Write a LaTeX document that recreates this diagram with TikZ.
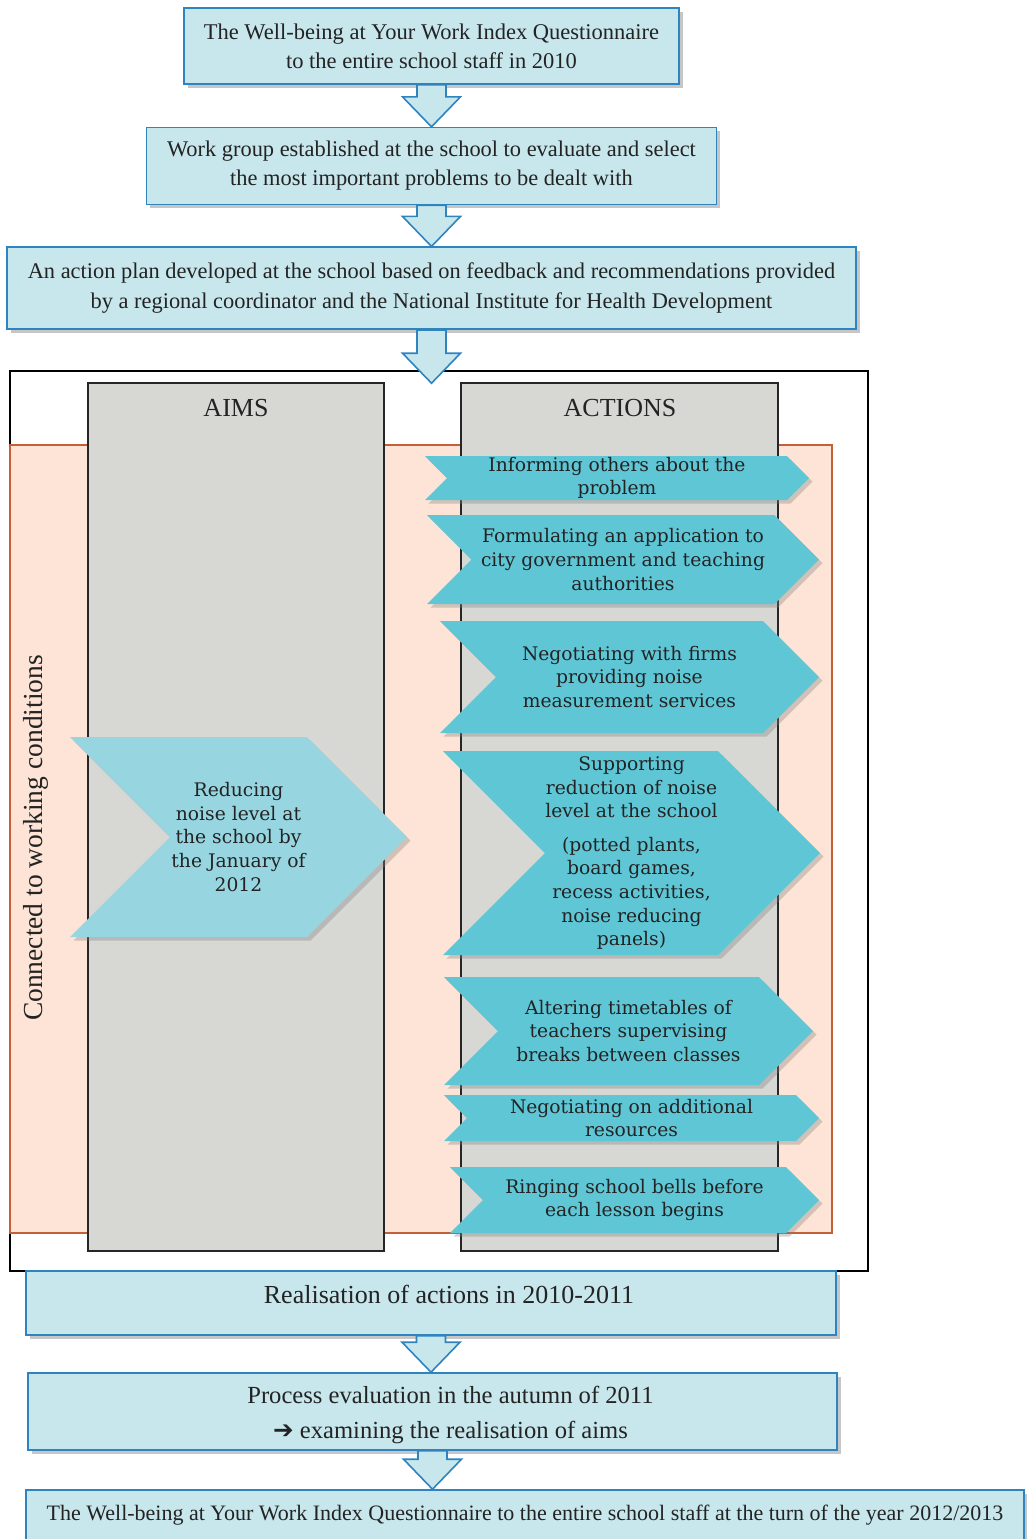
\documentclass[tikz,border=0pt]{standalone}
\usepackage{fontspec}
\setmainfont{Liberation Serif}
\newfontfamily\chevfont{DejaVu Serif}
\newfontfamily\symfont{DejaVu Sans}
\usepackage{tikz}
\usetikzlibrary{positioning,calc,shadows}
\definecolor{boxfill} {RGB}{199,231,237}
\definecolor{boxline} {RGB}{47,132,192}
\definecolor{bandfill}{RGB}{253,228,214}
\definecolor{bandline}{RGB}{196,96,56}
\definecolor{colfill} {RGB}{215,215,211}
\definecolor{aimfill} {RGB}{151,214,224}
\definecolor{actfill} {RGB}{95,198,214}
\definecolor{txtgray} {RGB}{35,35,35}
\tikzset{
  flowbox/.style={draw=boxline, fill=boxfill, line width=0.8pt, align=center,
                  text=txtgray, inner sep=2pt,
                  drop shadow={shadow xshift=1.8pt, shadow yshift=-1.8pt,
                               opacity=0.45}},
  blockarr/.style={draw=boxline, fill=boxfill, line width=0.8pt,
                   line join=miter},
  chevtext/.style={align=center, text=txtgray, inner sep=0pt,
                   font=\chevfont\fontsize{9.35}{11.8}\selectfont},
  colbox/.style={draw=black!85, fill=colfill, line width=0.8pt,
                 minimum width=#1, minimum height=434pt, inner sep=0pt},
  lbltext/.style={text=txtgray, font=\fontsize{13}{15}\selectfont},
}
% chevron: shape style, name, left x, tip x, top y, bottom y, text
\newcommand{\chevbox}[7]{%
  \pgfmathsetmacro{\chd}{(#6-#5)/2}
  \pgfmathsetmacro{\chm}{(#6+#5)/2}
  \pgfmathsetmacro{\chc}{(#3+#4)/2}
  \fill[#1] (#3,#5) -- ({#4-\chd},#5) -- (#4,\chm) -- ({#4-\chd},#6)
            -- (#3,#6) -- ({#3+\chd},\chm) -- cycle;
  \node[chevtext] (#2) at (\chc,\chm) {#7};
}
% block arrow down from one box to the next, [overlap]
\newcommand{\flowarrow}[3][0]{%
  \filldraw[blockarr]
    ($(#2.south)+(-14.5,0)$)
    -- ($(#2.south |- #3.north)+(-14.5,-30+#1)$)
    -- ($(#2.south |- #3.north)+(-29,-30+#1)$)
    -- ($(#2.south |- #3.north)+(0,#1)$)
    -- ($(#2.south |- #3.north)+(29,-30+#1)$)
    -- ($(#2.south |- #3.north)+(14.5,-30+#1)$)
    -- ($(#2.south)+(14.5,0)$) -- cycle;
}

\begin{document}
\begin{tikzpicture}[x=0.5pt, y=-0.5pt,
  aimshape/.style={fill=aimfill,
    drop shadow={shadow xshift=1.8pt, shadow yshift=-1.8pt, opacity=0.35}},
  actshape/.style={fill=actfill,
    drop shadow={shadow xshift=1.8pt, shadow yshift=-1.8pt, opacity=0.35}},
]
  \useasboundingbox (0,0) rectangle (1027,1539);
  \clip (0,0) rectangle (1027,1539);

  %% top of the flow
  \node[flowbox, minimum width=247.5pt, minimum height=38pt,
        font=\fontsize{11.25}{14.5}\selectfont] (box1) at (431.5,46)
        {The Well-being at Your Work Index Questionnaire\\to the entire school staff in 2010};
  \node[flowbox, below=21pt of box1, minimum width=285pt, minimum height=38.5pt,
        font=\fontsize{11.2}{14.5}\selectfont] (box2)
        {Work group established at the school to evaluate and select\\the most important problems to be dealt with};
  \node[flowbox, below=20.5pt of box2, minimum width=424.5pt, minimum height=41pt,
        font=\fontsize{11.2}{15}\selectfont] (box3)
        {An action plan developed at the school based on feedback and recommendations provided\\by a regional coordinator and the National Institute for Health Development};

  %% aims and actions
  \node[draw=black, fill=white, line width=0.8pt, minimum width=429pt,
        minimum height=450pt, inner sep=0pt] (frame) at (439,821) {};
  \node[draw=bandline, fill=bandfill, line width=0.6pt, minimum width=411pt,
        minimum height=394pt, inner sep=0pt] (band) at (421,839) {};
  \node[colbox=148pt]   (aims)    at (236,817)   {};
  \node[colbox=158.5pt] (actions) at (619.5,817) {};
  \node[lbltext] (aimslbl) at (236,408)   {AIMS};
  \node[lbltext] (actlbl)  at (620,408)   {ACTIONS};
  \node[lbltext, rotate=90, font=\fontsize{13.75}{15}\selectfont] (conn) at (36,838)
        {Connected to working conditions};

  \chevbox{aimshape}{aim}{70}{407}{737}{937}
    {Reducing\\noise level at\\the school by\\the January of\\2012}
  \chevbox{actshape}{act1}{425}{809}{456}{500}
    {Informing others about the\\problem}
  \chevbox{actshape}{act2}{427}{819}{515}{604}
    {Formulating an application to\\city government and teaching\\authorities}
  \chevbox{actshape}{act3}{440}{819}{621}{733}
    {Negotiating with firms\\providing noise\\measurement services}
  \chevbox{actshape}{act4}{443}{820}{751}{955}
    {Supporting\\reduction of noise\\level at the school\\[5pt](potted plants,\\board games,\\recess activities,\\noise reducing\\panels)}
  \chevbox{actshape}{act5}{444}{813}{977}{1085}
    {Altering timetables of\\teachers supervising\\breaks between classes}
  \chevbox{actshape}{act6}{444}{819}{1095}{1141}
    {Negotiating on additional\\resources}
  \chevbox{actshape}{act7}{450}{819}{1167}{1233}
    {Ringing school bells before\\each lesson begins}

  %% bottom of the flow
  \node[flowbox, minimum width=405pt, minimum height=32pt,
        font=\fontsize{13}{15}\selectfont] (real) at (431,1303)
        {\hspace*{18pt}Realisation of actions in 2010-2011\rule[-9pt]{0pt}{0pt}};
  \node[flowbox, minimum width=404.5pt, minimum height=38.5pt,
        font=\fontsize{12.3}{17.5}\selectfont] (proc) at (432.5,1411.5)
        {\hspace*{18pt}\rule{0pt}{12.5pt}Process evaluation in the autumn of 2011\\
         \hspace*{18pt}{\symfont ➔} examining the realisation of aims};
  \node[flowbox, minimum width=499pt, minimum height=25.5pt,
        font=\fontsize{11}{13}\selectfont] (final) at (525,1515.5)
        {The Well-being at Your Work Index Questionnaire to the entire school staff at the turn of the year 2012/2013};

  \flowarrow{box1}{box2}
  \flowarrow{box2}{box3}
  \flowarrow[13]{box3}{frame}
  \flowarrow{real}{proc}
  \flowarrow{proc}{final}
\end{tikzpicture}
\end{document}
